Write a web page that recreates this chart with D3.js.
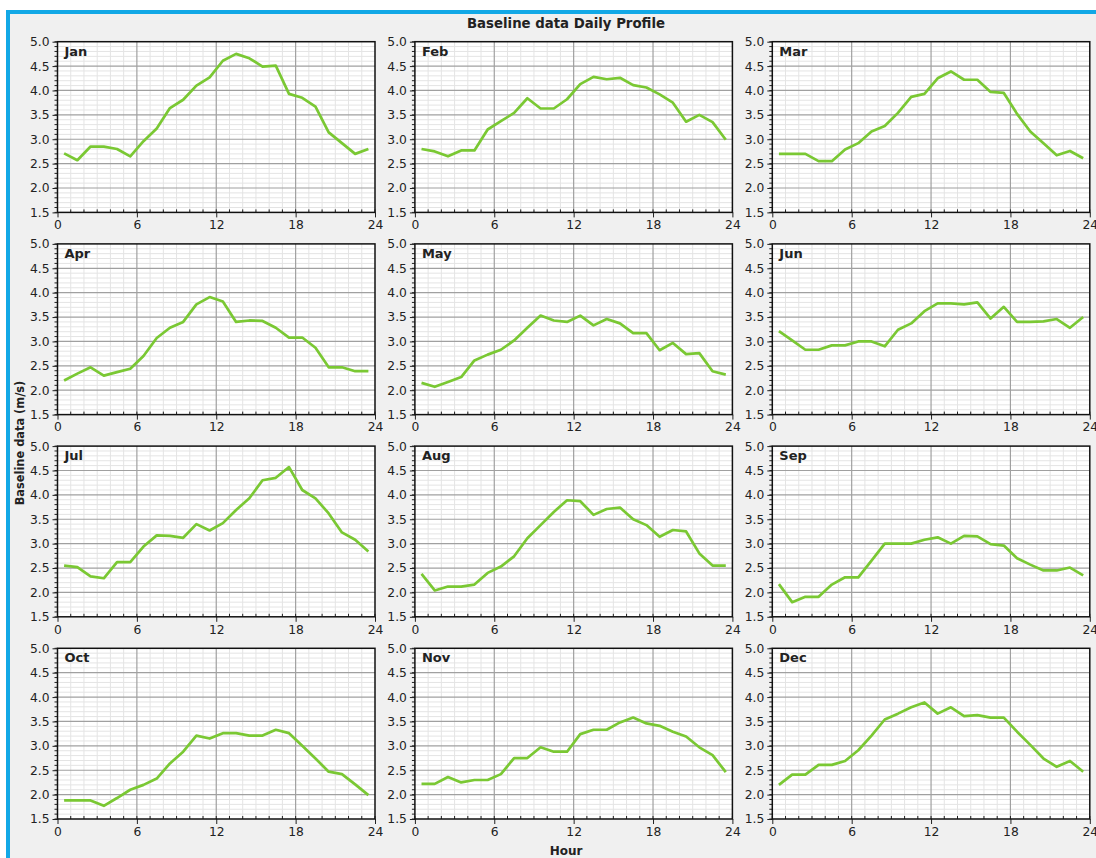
<!DOCTYPE html>
<html><head><meta charset="utf-8">
<script src="https://cdn.jsdelivr.net/npm/d3@7"></script>
<style>
html,body{margin:0;padding:0;background:#fff;}
svg{display:block;font-family:"DejaVu Sans",Verdana,sans-serif;}
</style></head>
<body>
<svg id="chart" width="1096" height="858"></svg>
<script>
const months = ["Jan","Feb","Mar","Apr","May","Jun","Jul","Aug","Sep","Oct","Nov","Dec"];
const hours = [0.5,1.5,2.5,3.5,4.5,5.5,6.5,7.5,8.5,9.5,10.5,11.5,12.5,13.5,14.5,15.5,16.5,17.5,18.5,19.5,20.5,21.5,22.5,23.5];
const jan = [2.71,2.57,2.85,2.85,2.80,2.65,2.96,3.22,3.64,3.81,4.10,4.27,4.61,4.75,4.66,4.49,4.51,3.93,3.85,3.67,3.14,2.92,2.70,2.80];
const feb = [2.80,2.75,2.65,2.77,2.77,3.20,3.37,3.54,3.84,3.63,3.63,3.82,4.13,4.28,4.23,4.26,4.11,4.06,3.92,3.75,3.36,3.50,3.35,2.99];
const mar = [2.70,2.70,2.70,2.55,2.55,2.79,2.92,3.16,3.27,3.54,3.87,3.93,4.25,4.39,4.22,4.22,3.97,3.95,3.52,3.16,2.92,2.67,2.76,2.61];
const apr = [2.20,2.34,2.47,2.30,2.37,2.44,2.70,3.07,3.28,3.40,3.76,3.91,3.82,3.40,3.43,3.42,3.28,3.08,3.08,2.87,2.47,2.47,2.39,2.39];
const may = [2.15,2.07,2.17,2.27,2.61,2.73,2.83,3.02,3.28,3.53,3.43,3.40,3.53,3.33,3.46,3.37,3.17,3.17,2.82,2.97,2.74,2.76,2.39,2.32];
const jun = [3.21,3.02,2.83,2.83,2.92,2.92,3.00,3.00,2.90,3.24,3.37,3.62,3.78,3.78,3.76,3.80,3.47,3.71,3.40,3.40,3.41,3.46,3.28,3.50];
const jul = [2.55,2.52,2.33,2.29,2.62,2.62,2.94,3.17,3.16,3.12,3.40,3.27,3.42,3.69,3.93,4.30,4.35,4.57,4.10,3.93,3.62,3.23,3.08,2.84];
const aug = [2.38,2.04,2.12,2.12,2.16,2.40,2.53,2.74,3.11,3.38,3.65,3.89,3.87,3.59,3.71,3.74,3.50,3.38,3.14,3.28,3.25,2.80,2.55,2.55];
const sep = [2.17,1.80,1.91,1.91,2.16,2.31,2.31,2.65,3.00,3.00,3.00,3.08,3.13,3.00,3.16,3.15,2.99,2.96,2.70,2.57,2.45,2.45,2.51,2.35];
const oct = [1.88,1.88,1.88,1.77,1.93,2.10,2.20,2.33,2.64,2.88,3.21,3.15,3.26,3.26,3.21,3.21,3.33,3.26,3.00,2.74,2.47,2.42,2.21,1.99];
const nov = [2.22,2.22,2.36,2.25,2.30,2.30,2.42,2.75,2.75,2.97,2.88,2.88,3.24,3.33,3.33,3.48,3.58,3.46,3.41,3.29,3.19,2.97,2.81,2.46];
const dec = [2.20,2.41,2.41,2.61,2.61,2.69,2.91,3.21,3.54,3.66,3.79,3.89,3.66,3.79,3.61,3.63,3.58,3.58,3.29,3.02,2.74,2.57,2.69,2.47];
const series = [jan,feb,mar,apr,may,jun,jul,aug,sep,oct,nov,dec];
const xTicks = [0,6,12,18,24];
const yTicks = [1.5,2.0,2.5,3.0,3.5,4.0,4.5,5.0];
const title = "Baseline data Daily Profile";
const xTitle = "Hour";
const yTitle = "Baseline data (m/s)";

const svg = d3.select("#chart");
svg.append("rect").attr("x",6).attr("y",10).attr("width",1090).attr("height",848).attr("fill","#f0f0f0");
svg.append("rect").attr("x",6).attr("y",10).attr("width",1090).attr("height",4).attr("fill","#12a8e6");
svg.append("rect").attr("x",6).attr("y",10).attr("width",4).attr("height",848).attr("fill","#12a8e6");

svg.append("text").attr("x",566).attr("y",27.5).attr("text-anchor","middle")
  .attr("font-size",13.3).attr("font-weight","bold").attr("fill","#222").text(title);
svg.append("text").attr("x",566).attr("y",855).attr("text-anchor","middle")
  .attr("font-size",12).attr("font-weight","bold").attr("fill","#222").text(xTitle);
svg.append("text").attr("transform","translate(24,443) rotate(-90)").attr("text-anchor","middle")
  .attr("font-size",11.4).attr("font-weight","bold").attr("fill","#222").text(yTitle);

const W = 317.5, H = 170.7;
const left0 = 57.5, top0 = 41.7, dx = 357.4, dy = 202.2;
const x = d3.scaleLinear().domain([0,24]).range([0,W]);
const y = d3.scaleLinear().domain([1.5,5]).range([H,0]);
const minorX = d3.range(0,25,1);
const minorY = d3.range(15,51,1).map(v=>v/10);

months.forEach((m,i)=>{
  const c = i%3, r = Math.floor(i/3);
  const g = svg.append("g").attr("transform",`translate(${left0+c*dx},${top0+r*dy})`);
  g.append("rect").attr("width",W).attr("height",H).attr("fill","#fff");
  g.selectAll(".mgx").data(minorX.filter(v=>v%6!==0)).enter().append("line")
    .attr("x1",d=>x(d)).attr("x2",d=>x(d)).attr("y1",0).attr("y2",H)
    .attr("stroke","#e4e4e4").attr("stroke-width",1);
  g.selectAll(".mgy").data(minorY.filter(v=>Math.abs(v*2-Math.round(v*2))>0.01)).enter().append("line")
    .attr("x1",0).attr("x2",W).attr("y1",d=>y(d)).attr("y2",d=>y(d))
    .attr("stroke","#e4e4e4").attr("stroke-width",1);
  g.selectAll(".gx").data(xTicks.slice(1,-1)).enter().append("line")
    .attr("x1",d=>x(d)).attr("x2",d=>x(d)).attr("y1",0).attr("y2",H)
    .attr("stroke","#a0a0a0").attr("stroke-width",1.2);
  g.selectAll(".gy").data(yTicks.slice(1,-1)).enter().append("line")
    .attr("x1",0).attr("x2",W).attr("y1",d=>y(d)).attr("y2",d=>y(d))
    .attr("stroke","#a0a0a0").attr("stroke-width",1.2);
  const data = hours.map((h,k)=>[h,series[i][k]]);
  g.append("path").datum(data)
    .attr("d",d3.line().x(d=>x(d[0])).y(d=>y(d[1])))
    .attr("fill","none").attr("stroke","#7ac833").attr("stroke-width",2.7)
    .attr("stroke-linejoin","round");
  const ya = g.append("g").call(d3.axisLeft(y).tickValues(yTicks).tickFormat(d3.format(".1f")).tickSize(5).tickPadding(3));
  const xa = g.append("g").attr("transform",`translate(0,${H})`).call(d3.axisBottom(x).tickValues(xTicks).tickSize(5).tickPadding(3));
  [ya,xa].forEach(a=>{
    a.select(".domain").remove();
    a.selectAll("line").attr("stroke","#222");
    a.selectAll("text").attr("font-size",12.3).attr("fill","#222").attr("font-family","DejaVu Sans, Verdana, sans-serif");
  });
  g.selectAll(".mty").data(minorY).enter().append("line")
    .attr("x1",-3).attr("x2",0).attr("y1",d=>y(d)).attr("y2",d=>y(d)).attr("stroke","#222");
  g.selectAll(".mtx").data(minorX).enter().append("line")
    .attr("x1",d=>x(d)).attr("x2",d=>x(d)).attr("y1",H-3).attr("y2",H).attr("stroke","#222");
  g.append("rect").attr("width",W).attr("height",H).attr("fill","none").attr("stroke","#111").attr("stroke-width",1.5);
  g.append("text").attr("x",7).attr("y",14).attr("font-size",13).attr("font-weight","bold").attr("fill","#222").text(m);
});
</script>
</body></html>
